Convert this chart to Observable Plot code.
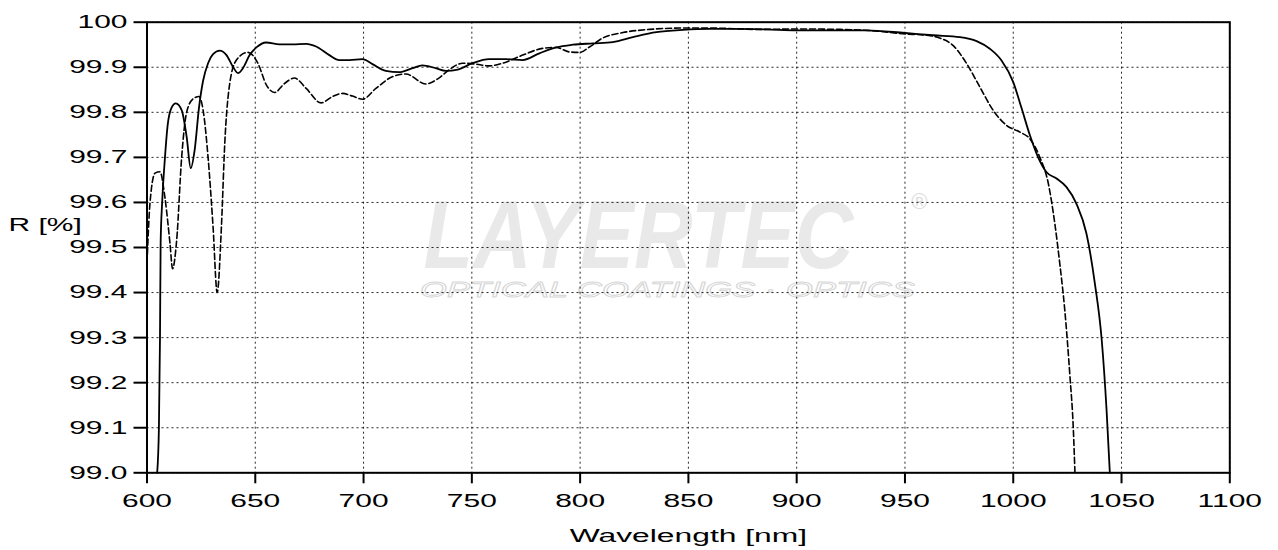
<!DOCTYPE html>
<html>
<head>
<meta charset="utf-8">
<script src="https://cdn.jsdelivr.net/npm/d3@7"></script>
<script src="https://cdn.jsdelivr.net/npm/@observablehq/plot@0.6"></script>
<style>
  html, body { margin: 0; padding: 0; background: #fff; }
  #chart { width: 1278px; height: 550px; }
</style>
</head>
<body>
<div id="chart"></div>
<script>
// ---- Data ----
const xTicks = [600, 650, 700, 750, 800, 850, 900, 950, 1000, 1050, 1100];
const xTickLabels = ["600", "650", "700", "750", "800", "850", "900", "950", "1000", "1050", "1100"];
const yTicks = [99.0, 99.1, 99.2, 99.3, 99.4, 99.5, 99.6, 99.7, 99.8, 99.9, 100];
const yTickLabels = ["99.0", "99.1", "99.2", "99.3", "99.4", "99.5", "99.6", "99.7", "99.8", "99.9", "100"];
const xLabel = "Wavelength [nm]";
const yLabel = "R [%]";
const watermarkMain = "LAYERTEC";
const watermarkReg = "®";
const watermarkSub = "OPTICAL COATINGS · OPTICS";

const solidWavelength = [604.7, 605.5, 606.0, 606.3, 607.0, 608.3, 609.5, 611.3, 613.3, 616.0, 618.3, 620.2, 622.0, 624.0, 625.9, 628.2, 630.5, 633.6, 636.7, 639.7, 642.0, 644.3, 647.4, 650.5, 655.0, 661.2, 667.3, 673.5, 678.1, 684.2, 688.8, 693.4, 699.5, 704.1, 710.3, 716.4, 722.6, 727.1, 733.3, 738.0, 743.5, 750.3, 758.0, 765.7, 773.5, 781.2, 788.9, 796.6, 805.9, 815.1, 824.4, 835.2, 847.5, 860.0, 870.5, 885.8, 900.0, 916.6, 932.0, 950.0, 963.0, 975.4, 983.1, 989.2, 994.6, 1000.0, 1003.8, 1007.7, 1011.5, 1015.4, 1020.0, 1024.6, 1029.2, 1033.8, 1037.7, 1040.8, 1043.1, 1044.6];
const solidReflectance = [99.0, 99.1, 99.3, 99.51, 99.60, 99.70, 99.77, 99.81, 99.82, 99.805, 99.746, 99.676, 99.716, 99.81, 99.87, 99.909, 99.929, 99.937, 99.927, 99.901, 99.887, 99.898, 99.927, 99.944, 99.955, 99.951, 99.951, 99.952, 99.946, 99.927, 99.916, 99.916, 99.918, 99.907, 99.892, 99.889, 99.898, 99.904, 99.898, 99.892, 99.895, 99.909, 99.918, 99.918, 99.916, 99.931, 99.944, 99.95, 99.953, 99.956, 99.967, 99.978, 99.983, 99.985, 99.985, 99.984, 99.982, 99.982, 99.982, 99.976, 99.971, 99.967, 99.958, 99.941, 99.915, 99.867, 99.81, 99.749, 99.70, 99.667, 99.653, 99.634, 99.597, 99.531, 99.42, 99.298, 99.139, 99.0];

const dashedWavelength = [600.0, 601.4, 603.7, 606.0, 608.3, 610.6, 611.8, 613.7, 616.0, 618.3, 621.3, 624.0, 625.9, 628.2, 630.5, 632.4, 634.4, 635.9, 638.2, 641.3, 646.6, 651.2, 655.1, 658.9, 663.5, 668.1, 673.5, 680.4, 685.7, 690.3, 694.9, 699.5, 705.7, 713.3, 719.5, 728.7, 734.8, 739.4, 745.7, 751.9, 758.0, 764.2, 773.5, 782.7, 788.9, 795.0, 799.7, 804.3, 810.5, 819.8, 832.1, 847.5, 860.0, 883.0, 900.0, 920.0, 935.0, 950.0, 960.0, 966.0, 972.3, 978.5, 984.6, 990.8, 996.9, 1003.1, 1007.7, 1012.3, 1016.2, 1019.2, 1021.5, 1023.8, 1026.2, 1027.7, 1028.5];
const dashedReflectance = [99.465, 99.60, 99.665, 99.668, 99.61, 99.51, 99.453, 99.516, 99.70, 99.80, 99.83, 99.835, 99.805, 99.70, 99.546, 99.40, 99.55, 99.73, 99.864, 99.916, 99.933, 99.909, 99.861, 99.844, 99.864, 99.876, 99.853, 99.821, 99.835, 99.842, 99.836, 99.829, 99.853, 99.879, 99.885, 99.863, 99.876, 99.894, 99.909, 99.907, 99.903, 99.909, 99.927, 99.942, 99.944, 99.934, 99.933, 99.945, 99.965, 99.977, 99.984, 99.987, 99.987, 99.984, 99.985, 99.984, 99.981, 99.974, 99.971, 99.965, 99.948, 99.908, 99.856, 99.804, 99.771, 99.756, 99.741, 99.70, 99.642, 99.553, 99.464, 99.361, 99.213, 99.102, 99.0];

// ---- Build tables ----
const solid = solidWavelength.map((w, i) => ({w, r: solidReflectance[i]}));
const dashed = dashedWavelength.map((w, i) => ({w, r: dashedReflectance[i]}));
const xFmt = new Map(xTicks.map((t, i) => [t, xTickLabels[i]]));
const yFmt = new Map(yTicks.map((t, i) => [t, yTickLabels[i]]));

const FONT = "'Liberation Sans', Arial, sans-serif";
const FS = 18.5;
const STRETCH = 1.62;

const plot = Plot.plot({
  width: 1278,
  height: 550,
  marginLeft: 146.5,
  marginRight: 48.7,
  marginTop: 21.7,
  marginBottom: 77.7,
  style: {fontFamily: FONT, fontSize: FS + "px", color: "#000", background: "#fff"},
  x: {domain: [600, 1100]},
  y: {domain: [99, 100]},
  marks: [
    // watermark
    Plot.text([watermarkMain], {frameAnchor: "middle", text: d => d, dx: -50, dy: -10, fontSize: 96, fontWeight: 900, fontStyle: "italic", fill: "#e9e9e9", fontFamily: FONT}),
    Plot.text([watermarkReg], {frameAnchor: "middle", text: d => d, dx: 231, dy: -46, fontSize: 22, fill: "#dcdcdc", fontFamily: FONT}),
    Plot.text([watermarkSub], {frameAnchor: "middle", text: d => d, dx: -21, dy: 42, fontSize: 23, fontStyle: "italic", fontWeight: 300, fill: "none", stroke: "#d6d6d6", strokeWidth: 0.9, fontFamily: FONT}),
    // grid
    Plot.gridX(xTicks, {stroke: "#000", strokeOpacity: 0.85, strokeDasharray: "2,3", strokeWidth: 1}),
    Plot.gridY(yTicks, {stroke: "#000", strokeOpacity: 0.85, strokeDasharray: "2,3", strokeWidth: 1}),
    // curves
    Plot.line(dashed, {x: "w", y: "r", stroke: "#000", strokeWidth: 1.6, strokeDasharray: "6,3", curve: "monotone-x"}),
    Plot.line(solid, {x: "w", y: "r", stroke: "#000", strokeWidth: 1.8, curve: "monotone-x"}),
    Plot.frame({stroke: "#000", strokeWidth: 2}),
    // axes
    Plot.axisX(xTicks, {tickFormat: d => xFmt.get(d), tickSize: 11, tickPadding: 9.7, strokeWidth: 2, fontSize: FS, label: null}),
    Plot.axisY(yTicks, {tickFormat: d => yFmt.get(d), tickSize: 13, tickPadding: 6.5, strokeWidth: 2, fontSize: FS, label: null}),
    // axis titles
    Plot.text([xLabel], {frameAnchor: "bottom", text: d => d, dy: 63.5, lineAnchor: "middle", fontSize: FS, fill: "#000"}),
    Plot.text([yLabel], {frameAnchor: "left", text: d => d, dx: -138.5, dy: -22, textAnchor: "start", lineAnchor: "middle", fontSize: FS, fill: "#000"})
  ]
});

document.getElementById("chart").appendChild(plot);

// Watermark sizing and horizontal stretch of the wide reference typeface
plot.querySelectorAll("text").forEach(t => {
  const s = t.textContent;
  const tr = t.getAttribute("transform") || "";
  if (s === watermarkMain || s === watermarkSub) {
    const target = s === watermarkMain ? 430 : 495;
    const w = t.getComputedTextLength() || target;
    t.setAttribute("transform", tr + ` scale(${target / w},1)`);
    return;
  }
  if (s === watermarkReg) return;
  const k = s === xLabel ? 1.72 : STRETCH;
  t.setAttribute("transform", tr + ` scale(${k},1)`);
});
</script>
</body>
</html>
